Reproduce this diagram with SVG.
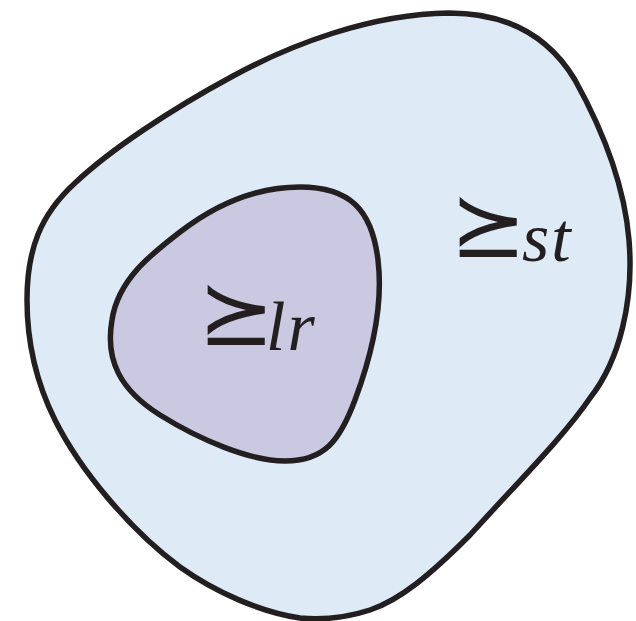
<svg xmlns="http://www.w3.org/2000/svg" width="636" height="621" viewBox="0 0 636 621">
<style>
.blob{stroke:#231f20;stroke-width:5.5;stroke-linejoin:round}
.rel{font-family:"DejaVu Sans",sans-serif;font-size:76px;fill:#231f20}
.sub{font-family:"Liberation Serif",serif;font-style:italic;font-size:70px;fill:#231f20;letter-spacing:2px}
</style>
<rect width="636" height="621" fill="#ffffff"/>
<g id="outer">
<path class="blob" fill="#deebf7" d="M449,13 C500,13 545,30 575,80 C600,125 624,180 629,240 C634,300 620,360 590,398 C565,435 520,480 470,535 C430,575 400,600 370,610 C345,618 320,620 300,618 C260,612 215,592 180,567 C130,530 80,470 55,420 C35,380 27,340 27,300 C27,250 40,215 75,183 C110,150 170,110 233,76 C290,45 370,14 449,13 Z"/>
</g>
<g id="inner">
<path class="blob" fill="#cbc9e2" d="M300,187 C350,187 372,210 378,260 C384,310 370,360 355,400 C340,440 325,461 285,461 C250,461 200,440 160,415 C120,390 105,360 112,320 C118,280 150,255 180,232 C215,205 255,187 300,187 Z"/>
</g>
<g id="labels">
<text class="rel" transform="translate(450,255) scale(1.2,1.15)">⪰</text>
<text class="sub" x="522" y="261">st</text>
<text class="rel" transform="translate(198,343) scale(1.2,1.15)">⪰</text>
<text class="sub" x="266" y="350">lr</text>
</g>
</svg>
